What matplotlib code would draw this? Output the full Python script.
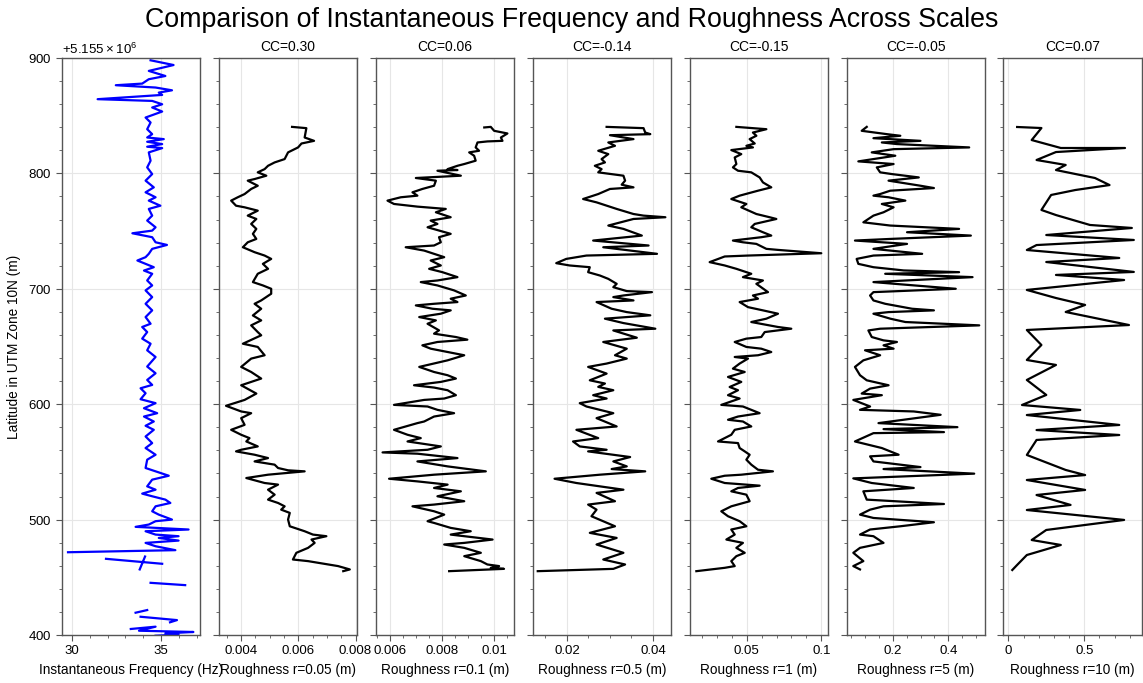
import numpy as np
import matplotlib
matplotlib.use("Agg")
import matplotlib.pyplot as plt
from matplotlib.ticker import MultipleLocator, AutoMinorLocator, FormatStrFormatter, ScalarFormatter

plt.rcParams['font.family'] = ['Liberation Sans', 'DejaVu Sans']
plt.rcParams['mathtext.fontset'] = 'custom'
plt.rcParams['mathtext.rm'] = 'Liberation Sans'

nan = float('nan')
LAT_BASE = 5155000

# instantaneous frequency (Hz) vs latitude offset (m)
freq_lat = [898.0, 893.9, 888.8, 884.4, 881.6, 877.8, 876.4, 874.4, 872.0, 870.0, 868.0, 864.3, 862.8, 859.9,
            857.1, 853.6, 848.4, 844.1, 838.3, 834.0, 831.1, 829.7, 827.4, 825.4, 823.1, 821.9, 818.2, 811.0,
            805.2, 799.4, 793.7, 787.9, 783.6, 779.3, 776.4, 772.0, 769.2, 763.4, 759.1, 753.3, 750.4, 748.1,
            744.7, 740.3, 738.0, 734.6, 730.3, 727.4, 724.5, 721.6, 718.7, 715.8, 713.0, 707.2, 702.9, 698.6,
            692.8, 687.0, 681.3, 675.5, 669.7, 666.9, 662.5, 656.8, 652.4, 646.7, 640.9, 632.6, 626.8, 621.0,
            616.7, 613.8, 609.5, 604.3, 600.9, 596.5, 592.2, 589.3, 585.0, 581.3, 577.8, 572.0, 566.3, 562.0,
            556.2, 551.9, 544.7, 541.8, 538.0, 534.6, 528.8, 525.9, 522.5, 520.2, 517.3, 514.4, 511.5, 507.2,
            504.3, 500.0, 498.6, 495.7, 493.7, 491.4, 489.9, 487.0, 485.6, 484.1, 481.8, 479.8, 476.9, 473.5,
            471.7, nan, 456.8, 468.0, nan, 466.0, 461.7, nan, 445.2, 443.2, nan, 419.3, 421.6, nan,
            415.8, 412.9, 411.0, nan, 405.2, 407.2, 403.7, 402.6, 401.4, 400.3, 399.4]
freq_val = [34.41, 35.70, 34.31, 35.24, 34.31, 33.94, 32.46, 34.69, 35.61, 34.87, 35.06, 31.44, 34.50, 35.06,
            34.50, 35.06, 34.13, 34.41, 34.22, 34.50, 34.22, 35.15, 34.22, 35.06, 34.22, 35.06, 34.31, 34.41,
            34.22, 34.50, 34.13, 34.59, 34.13, 34.69, 34.31, 34.96, 34.31, 34.50, 34.22, 34.69, 34.50, 33.39,
            34.50, 34.69, 35.33, 34.50, 34.31, 34.13, 33.67, 34.13, 34.59, 34.04, 34.50, 34.22, 34.50, 34.13,
            34.50, 34.13, 34.50, 34.13, 34.41, 33.94, 34.22, 33.94, 34.41, 34.22, 34.69, 34.22, 34.69, 34.22,
            34.50, 33.85, 34.13, 33.85, 34.69, 34.04, 34.78, 34.04, 34.59, 34.13, 34.59, 34.13, 34.50, 34.13,
            34.69, 34.22, 34.13, 34.69, 35.43, 34.50, 34.22, 34.69, 33.94, 34.50, 35.24, 35.52, 34.69, 34.50,
            34.87, 35.61, 34.69, 34.31, 33.57, 36.54, 34.13, 34.69, 35.98, 34.87, 35.98, 34.13, 34.69, 35.80,
            29.78, nan, 33.80, 34.10, nan, 31.91, 35.06, nan, 34.41, 36.35, nan, 33.57, 34.22, nan,
            33.85, 35.89, 35.50, nan, 33.30, 34.69, 33.76, 36.81, 35.24, 35.98, 34.69]

# roughness r=0.05
r005_lat = [840.3, 839.2, 831.1, 828.2, 825.9, 822.5, 818.2, 812.4, 809.5, 806.6, 803.7, 800.9, 798.0, 795.1,
            793.7, 789.3, 786.5, 782.1, 779.3, 776.4, 772.0, 770.6, 767.7, 763.4, 760.5, 756.2, 751.9, 747.6,
            743.2, 740.3, 736.0, 731.7, 728.8, 725.9, 721.6, 717.3, 713.0, 705.8, 702.9, 700.0, 695.7, 689.9,
            687.0, 682.7, 676.9, 672.6, 668.3, 662.5, 659.7, 652.4, 649.6, 642.4, 639.5, 632.3, 627.9, 622.2,
            616.4, 609.2, 603.7, 598.6, 593.7, 592.2, 587.9, 582.1, 577.8, 573.5, 570.6, 567.7, 563.4, 560.5,
            559.1, 556.2, 553.3, 550.4, 547.6, 544.7, 542.7, 541.8, 538.9, 536.0, 531.7, 530.3, 525.9, 521.6,
            517.3, 514.4, 511.5, 508.6, 505.8, 500.0, 494.2, 489.9, 487.0, 485.6, 482.7, 479.8, 475.5, 471.2,
            465.4, 464.0, 459.7, 456.8, 455.3]
r005_val = [0.00578, 0.00628, 0.00622, 0.00655, 0.00611, 0.00599, 0.00564, 0.00552, 0.00517, 0.00494,
            0.00482, 0.00458, 0.00488, 0.00447, 0.00423, 0.00458, 0.00435, 0.00412, 0.00388, 0.00365,
            0.00382, 0.00412, 0.00458, 0.00423, 0.00453, 0.00435, 0.00453, 0.00441, 0.00453, 0.00423,
            0.00406, 0.00447, 0.00482, 0.00505, 0.00476, 0.00494, 0.00458, 0.00441, 0.00476, 0.00505,
            0.00505, 0.00470, 0.00447, 0.00470, 0.00441, 0.00470, 0.00435, 0.00458, 0.00470, 0.00406,
            0.00458, 0.00482, 0.00435, 0.00400, 0.00435, 0.00470, 0.00400, 0.00453, 0.00412, 0.00347,
            0.00400, 0.00435, 0.00400, 0.00412, 0.00365, 0.00400, 0.00429, 0.00418, 0.00458, 0.00400,
            0.00382, 0.00447, 0.00494, 0.00447, 0.00517, 0.00529, 0.00564, 0.00622, 0.00494, 0.00418,
            0.00482, 0.00529, 0.00494, 0.00517, 0.00494, 0.00529, 0.00552, 0.00540, 0.00570, 0.00564,
            0.00570, 0.00622, 0.00651, 0.00698, 0.00646, 0.00657, 0.00634, 0.00593, 0.00581, 0.00634,
            0.00739, 0.00780, 0.00757]

# roughness r=0.1
r01_lat = [839.8, 840.3, 836.9, 834.6, 831.1, 828.2, 827.7, 826.8, 822.5, 819.6, 818.2, 815.3, 811.0, 808.1,
           806.6, 803.7, 802.9, 802.3, 798.0, 796.0, 793.7, 789.3, 786.5, 783.6, 780.7, 779.3, 776.4, 773.5,
           771.2, 769.2, 766.3, 762.0, 759.1, 756.2, 753.3, 747.6, 744.7, 740.3, 737.5, 736.0, 733.1, 730.3,
           727.4, 724.5, 720.2, 717.3, 714.4, 710.1, 707.2, 705.8, 702.9, 698.6, 694.2, 691.4, 688.5, 687.0,
           685.6, 682.7, 681.3, 678.4, 675.5, 672.6, 669.7, 664.0, 661.1, 658.2, 655.9, 653.9, 651.0, 648.1,
           645.2, 642.4, 638.0, 632.3, 627.9, 625.1, 622.2, 619.3, 616.4, 614.4, 612.1, 607.8, 604.9, 603.7,
           599.4, 598.0, 595.1, 592.2, 589.3, 585.0, 583.6, 577.8, 573.5, 570.6, 567.7, 563.4, 560.5, 558.2,
           557.1, 553.3, 550.4, 546.1, 541.8, 538.9, 535.4, 533.1, 530.3, 527.4, 524.5, 520.2, 515.9, 513.0,
           511.5, 507.2, 504.3, 498.6, 497.1, 492.8, 489.9, 487.0, 482.7, 479.8, 478.4, 475.5, 471.2, 468.3,
           464.0, 461.1, 459.7, 458.2, 457.3, 455.3]
r01_val = [0.00962, 0.00987, 0.01000, 0.01051, 0.01026, 0.01032, 0.00974, 0.00936, 0.00929, 0.00942,
           0.00904, 0.00923, 0.00929, 0.00885, 0.00859, 0.00821, 0.00859, 0.00782, 0.00872, 0.00699,
           0.00776, 0.00769, 0.00724, 0.00686, 0.00705, 0.00641, 0.00590, 0.00615, 0.00705, 0.00814,
           0.00776, 0.00833, 0.00756, 0.00782, 0.00744, 0.00833, 0.00788, 0.00795, 0.00769, 0.00660,
           0.00731, 0.00769, 0.00808, 0.00756, 0.00795, 0.00750, 0.00801, 0.00859, 0.00782, 0.00718,
           0.00782, 0.00846, 0.00891, 0.00833, 0.00859, 0.00769, 0.00699, 0.00763, 0.00833, 0.00795,
           0.00712, 0.00776, 0.00744, 0.00788, 0.00769, 0.00853, 0.00897, 0.00782, 0.00724, 0.00756,
           0.00821, 0.00885, 0.00821, 0.00712, 0.00769, 0.00821, 0.00853, 0.00795, 0.00692, 0.00769,
           0.00821, 0.00853, 0.00808, 0.00731, 0.00615, 0.00744, 0.00782, 0.00846, 0.00769, 0.00731,
           0.00705, 0.00615, 0.00667, 0.00718, 0.00667, 0.00795, 0.00744, 0.00571, 0.00705, 0.00859,
           0.00705, 0.00821, 0.00968, 0.00769, 0.00596, 0.00705, 0.00821, 0.00769, 0.00872, 0.00782,
           0.00885, 0.00769, 0.00686, 0.00769, 0.00808, 0.00744, 0.00769, 0.00833, 0.00910, 0.00833,
           0.00994, 0.00885, 0.00808, 0.00885, 0.00949, 0.00885, 0.00949, 0.00974, 0.01019, 0.00987,
           0.01038, 0.00827]

# roughness r=0.5
r05_lat = [840.3, 839.2, 835.4, 834.0, 833.1, 829.7, 826.8, 823.9, 819.6, 816.7, 812.4, 809.5, 806.6, 803.7,
           800.9, 798.0, 793.7, 790.2, 787.9, 786.5, 782.1, 777.8, 774.9, 769.2, 764.8, 763.4, 762.0, 760.5,
           754.8, 751.9, 746.1, 741.8, 737.5, 736.0, 730.3, 728.8, 725.9, 722.2, 720.2, 718.7, 714.4, 711.5,
           708.6, 704.3, 701.4, 698.0, 697.1, 694.2, 692.8, 689.9, 688.5, 682.7, 679.8, 677.0, 674.1, 670.3,
           665.4, 663.9, 657.6, 653.9, 648.1, 642.4, 639.5, 635.2, 632.3, 626.5, 620.7, 617.9, 615.0, 612.1,
           607.8, 604.9, 600.9, 598.0, 592.2, 587.9, 580.7, 577.8, 570.6, 567.7, 563.4, 560.5, 559.1, 554.2,
           550.4, 546.1, 543.8, 541.8, 538.9, 535.4, 531.7, 528.8, 525.9, 523.1, 515.9, 513.0, 508.6, 502.9,
           494.2, 488.5, 484.1, 478.4, 471.2, 465.4, 461.1, 457.3, 455.3]
r05_val = [0.02922, 0.03781, 0.03820, 0.03938, 0.03000, 0.03547, 0.02961, 0.03117, 0.02727, 0.02961,
           0.02805, 0.02883, 0.02648, 0.02805, 0.02727, 0.03313, 0.03352, 0.03273, 0.03547, 0.03000,
           0.02727, 0.02375, 0.02688, 0.03156, 0.03547, 0.03781, 0.04289, 0.03547, 0.02961, 0.03313,
           0.03742, 0.02609, 0.03898, 0.02844, 0.04094, 0.02453, 0.01984, 0.01750, 0.02063, 0.02531,
           0.02492, 0.02766, 0.02961, 0.03156, 0.03078, 0.03391, 0.03977, 0.03313, 0.03078, 0.03547,
           0.02688, 0.03039, 0.03391, 0.03938, 0.02883, 0.03313, 0.04055, 0.03078, 0.03625, 0.02844,
           0.03391, 0.03117, 0.03391, 0.02922, 0.02492, 0.02922, 0.02531, 0.02883, 0.02727, 0.03078,
           0.02609, 0.02922, 0.02297, 0.02453, 0.03078, 0.02688, 0.03156, 0.02219, 0.02727, 0.02141,
           0.02297, 0.02922, 0.02492, 0.03469, 0.03078, 0.03391, 0.03039, 0.03820, 0.02766, 0.01711,
           0.02219, 0.02766, 0.03313, 0.02688, 0.03117, 0.02492, 0.02688, 0.02570, 0.03117, 0.02531,
           0.03156, 0.02688, 0.03313, 0.02844, 0.03352, 0.03078, 0.01320]

# roughness r=1
r1_lat = [840.3, 838.3, 835.4, 832.6, 829.7, 825.9, 823.9, 822.5, 820.2, 816.7, 813.8, 808.1, 805.2, 802.3,
          800.9, 796.5, 792.2, 787.9, 785.0, 780.7, 777.8, 773.5, 770.6, 764.8, 762.0, 760.5, 756.2, 753.3,
          749.0, 746.1, 744.7, 741.8, 740.3, 738.9, 734.6, 733.7, 730.8, 728.8, 728.0, 723.1, 720.2, 717.3,
          713.0, 710.1, 707.2, 704.3, 697.1, 694.2, 691.4, 688.5, 684.1, 681.3, 678.4, 674.1, 671.2, 666.9,
          665.4, 662.5, 658.2, 656.8, 653.9, 649.6, 648.1, 645.2, 642.4, 640.9, 639.5, 635.2, 630.8, 627.9,
          623.6, 619.3, 614.9, 612.1, 607.8, 604.9, 599.4, 598.0, 592.2, 589.3, 586.5, 585.0, 580.7, 577.8,
          573.5, 567.7, 566.3, 562.0, 559.1, 556.2, 551.9, 547.6, 543.2, 541.8, 538.9, 538.0, 535.4, 531.7,
          529.4, 527.4, 524.5, 521.6, 515.9, 511.5, 507.2, 502.9, 498.6, 494.2, 491.4, 487.0, 482.7, 479.8,
          475.5, 471.2, 468.3, 464.0, 459.7, 458.2, 455.3]
r1_val = [0.0431, 0.0632, 0.0542, 0.0565, 0.0520, 0.0554, 0.0498, 0.0542, 0.0397, 0.0464, 0.0420, 0.0431,
          0.0408, 0.0442, 0.0531, 0.0587, 0.0609, 0.0665, 0.0576, 0.0453, 0.0397, 0.0498, 0.0464, 0.0565,
          0.0654, 0.0699, 0.0554, 0.0531, 0.0609, 0.0665, 0.0598, 0.0408, 0.0475, 0.0565, 0.0632, 0.0710,
          0.1000, 0.0509, 0.0353, 0.0252, 0.0353, 0.0431, 0.0531, 0.0475, 0.0609, 0.0565, 0.0643, 0.0542,
          0.0576, 0.0453, 0.0509, 0.0609, 0.0710, 0.0632, 0.0531, 0.0710, 0.0799, 0.0621, 0.0598, 0.0498,
          0.0420, 0.0498, 0.0598, 0.0665, 0.0576, 0.0420, 0.0509, 0.0453, 0.0408, 0.0487, 0.0375, 0.0464,
          0.0386, 0.0442, 0.0375, 0.0453, 0.0330, 0.0475, 0.0587, 0.0442, 0.0375, 0.0475, 0.0531, 0.0420,
          0.0397, 0.0308, 0.0442, 0.0453, 0.0487, 0.0520, 0.0498, 0.0531, 0.0576, 0.0676, 0.0464, 0.0353,
          0.0263, 0.0353, 0.0587, 0.0442, 0.0397, 0.0498, 0.0520, 0.0397, 0.0330, 0.0375, 0.0453, 0.0498,
          0.0397, 0.0420, 0.0364, 0.0475, 0.0431, 0.0487, 0.0431, 0.0397, 0.0420, 0.0353, 0.0163]

# roughness r=5
r5_lat = [840.3, 836.9, 834.0, 832.6, 830.5, 828.2, 826.8, 825.4, 822.5, 821.0, 818.2, 815.3, 810.4, 808.1,
          805.2, 800.9, 799.4, 796.5, 793.7, 789.3, 787.3, 785.0, 782.1, 780.7, 779.3, 776.4, 773.5, 770.6,
          766.3, 763.4, 757.6, 754.8, 751.9, 749.0, 746.1, 743.2, 741.8, 738.9, 734.6, 730.3, 728.8, 725.9,
          721.6, 718.7, 715.9, 714.4, 713.0, 710.1, 705.8, 700.0, 697.1, 694.2, 689.9, 687.0, 682.7, 681.3,
          679.8, 678.4, 674.1, 671.2, 668.3, 665.4, 663.9, 658.2, 655.3, 653.9, 651.0, 648.1, 646.7, 642.4,
          638.0, 632.3, 625.1, 620.7, 616.4, 613.5, 609.2, 607.8, 603.7, 598.0, 595.1, 593.7, 590.8, 583.6,
          580.1, 578.4, 575.8, 574.9, 567.7, 562.0, 556.2, 554.8, 550.4, 545.5, 543.8, 539.8, 535.7, 531.7,
          527.4, 524.5, 517.3, 513.5, 511.5, 508.6, 504.3, 501.4, 497.7, 494.2, 491.4, 487.0, 485.6, 479.8,
          475.5, 471.2, 464.0, 459.7, 456.8]
r5_val = [0.1055, 0.0873, 0.1782, 0.2267, 0.1297, 0.2994, 0.1600, 0.2145, 0.4752, 0.2024, 0.1236, 0.2085,
          0.0752, 0.2024, 0.1418, 0.1539, 0.1964, 0.2933, 0.1842, 0.2994, 0.3479, 0.1903, 0.1539, 0.1297,
          0.1842, 0.2448, 0.1600, 0.2024, 0.1661, 0.1297, 0.0933, 0.1903, 0.4388, 0.2509, 0.4812, 0.1903,
          0.0630, 0.2509, 0.1297, 0.3055, 0.1297, 0.0691, 0.0752, 0.1297, 0.2388, 0.4388, 0.1721, 0.4873,
          0.1297, 0.4267, 0.1297, 0.1176, 0.1297, 0.1721, 0.2691, 0.3479, 0.1842, 0.1297, 0.1903, 0.2448,
          0.5115, 0.1539, 0.1115, 0.1236, 0.1661, 0.2145, 0.1661, 0.2024, 0.0994, 0.1539, 0.0933, 0.0630,
          0.0812, 0.1055, 0.1842, 0.1176, 0.0873, 0.1600, 0.0570, 0.1176, 0.0812, 0.2752, 0.3721, 0.1479,
          0.4327, 0.1661, 0.3842, 0.1297, 0.0630, 0.1600, 0.2206, 0.1176, 0.1297, 0.2994, 0.1661, 0.4933,
          0.0570, 0.1236, 0.2752, 0.0933, 0.1055, 0.3842, 0.1661, 0.1176, 0.0812, 0.1297, 0.3479, 0.2267,
          0.1176, 0.0812, 0.1297, 0.1661, 0.0812, 0.0570, 0.0933, 0.0570, 0.0812]

# roughness r=10
r10_lat = [840.2, 839.3, 828.9, 822.0, 822.0, 818.5, 811.6, 807.3, 802.9, 796.0, 789.9, 785.6, 781.3, 768.3,
           763.9, 755.3, 752.7, 746.6, 742.3, 737.9, 733.6, 726.7, 723.2, 714.6, 712.0, 707.6, 699.0, 692.0,
           686.0, 679.9, 668.6, 664.3, 651.3, 638.3, 634.0, 621.0, 608.0, 599.3, 595.0, 590.6, 582.0, 577.6,
           573.3, 569.0, 556.0, 543.0, 538.6, 534.3, 525.7, 521.3, 512.7, 508.3, 499.7, 491.0, 482.3, 478.0,
           469.3, 460.7, 456.3]
r10_val = [0.058, 0.218, 0.154, 0.346, 0.769, 0.314, 0.186, 0.378, 0.314, 0.571, 0.667, 0.442, 0.282, 0.218,
           0.314, 0.538, 0.814, 0.250, 0.827, 0.186, 0.122, 0.731, 0.250, 0.827, 0.314, 0.763, 0.122, 0.314,
           0.506, 0.378, 0.795, 0.122, 0.218, 0.122, 0.314, 0.122, 0.250, 0.090, 0.474, 0.122, 0.731, 0.186,
           0.731, 0.186, 0.122, 0.378, 0.506, 0.122, 0.506, 0.186, 0.410, 0.122, 0.763, 0.250, 0.154, 0.346,
           0.122, 0.058, 0.026]

titles = [None, 'CC=0.30', 'CC=0.06', 'CC=-0.14', 'CC=-0.15', 'CC=-0.05', 'CC=0.07']
xlabels = ['Instantaneous Frequency (Hz)', 'Roughness r=0.05 (m)', 'Roughness r=0.1 (m)',
           'Roughness r=0.5 (m)', 'Roughness r=1 (m)', 'Roughness r=5 (m)', 'Roughness r=10 (m)']

series = [(freq_val, freq_lat), (r005_val, r005_lat), (r01_val, r01_lat), (r05_val, r05_lat),
          (r1_val, r1_lat), (r5_val, r5_lat), (r10_val, r10_lat)]
xlims = [(29.44, 37.2), (0.00322, 0.00806), (0.00545, 0.01077), (0.01203, 0.04422),
         (0.0118, 0.1045), (0.0327, 0.532), (-0.032, 0.88)]
xsteps = [5, 0.002, 0.002, 0.02, 0.05, 0.2, 0.5]

fig, axes = plt.subplots(1, 7, figsize=(11.43, 6.83), dpi=100, sharey=True)
fig.subplots_adjust(left=0.0542, right=0.999, bottom=0.0703, top=0.9151, wspace=0.134)

for i, ax in enumerate(axes):
    xv, yv = series[i]
    color = 'blue' if i == 0 else 'black'
    ax.plot(xv, LAT_BASE + np.array(yv), color=color, lw=1.6)
    ax.set_xlim(*xlims[i])
    ax.xaxis.set_major_locator(MultipleLocator(xsteps[i]))
    ax.xaxis.set_minor_locator(AutoMinorLocator())
    ax.xaxis.set_major_formatter(FormatStrFormatter('%g'))
    ax.grid(True, color='#e6e6e6', lw=0.8)
    ax.set_axisbelow(True)
    for s in ax.spines.values():
        s.set_color('#555555')
        s.set_linewidth(1.0)
    ax.tick_params(which='both', direction='out', colors='#555555', labelcolor='black', labelsize=9.5)
    ax.tick_params(which='major', length=4)
    ax.tick_params(which='minor', length=2.5)
    ax.set_xlabel(xlabels[i], fontsize=9.8, labelpad=4)
    if titles[i]:
        ax.set_title(titles[i], fontsize=10, pad=5)

ax0 = axes[0]
ax0.set_ylim(LAT_BASE + 400, LAT_BASE + 900)
ax0.yaxis.set_major_locator(MultipleLocator(100))
ax0.yaxis.set_minor_locator(AutoMinorLocator())
fmt = ScalarFormatter(useMathText=True)
ax0.yaxis.set_major_formatter(fmt)
ax0.yaxis.get_offset_text().set_fontsize(9.5)
ax0.set_ylabel('Latitude in UTM Zone 10N (m)', fontsize=9.8, labelpad=5)

fig.suptitle('Comparison of Instantaneous Frequency and Roughness Across Scales', fontsize=19.3, y=0.99)

fig.savefig('out.png', dpi=100)
